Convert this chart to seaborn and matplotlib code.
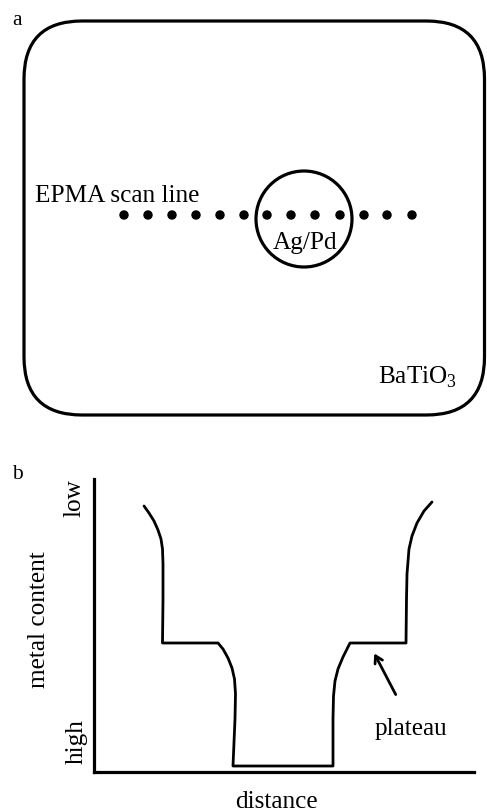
import matplotlib
matplotlib.use("Agg")
import matplotlib.pyplot as plt
from matplotlib.patches import FancyBboxPatch, Circle
import seaborn as sns
import pandas as pd

sns.set_style("white")
plt.rcParams['font.family'] = ['Liberation Serif', 'DejaVu Serif']
plt.rcParams['mathtext.fontset'] = 'custom'
plt.rcParams['mathtext.rm'] = 'Liberation Serif'
plt.rcParams['text.color'] = 'black'

# ---------------- data ----------------
# panel a: EPMA scan points (position along scan line, panel pixel units)
scan_x = [124, 148, 172, 196, 220, 244, 267, 291, 315, 340, 364, 387, 412]
scan_y = [216] * len(scan_x)

# panel b: schematic metal-content profile (distance, content height)
profile_distance = [50, 55, 60, 64, 67, 68.5, 69, 69, 68.5,
                    124, 129, 134, 138, 140.5, 141.5, 141, 139,
                    239, 239, 239.5, 241, 244, 249, 256,
                    312, 312.5, 313, 315, 318, 323, 330, 338]
profile_content = [266, 259, 251, 242, 233, 223, 208, 173, 129,
                   129, 123, 114, 104, 93, 78, 53, 6,
                   6, 53, 76, 91, 103, 115, 129,
                   129, 173, 198, 223, 236, 249, 261, 270]

labels_a = ["EPMA scan line", "Ag/Pd", "BaTiO$_\\mathrm{3}$"]
labels_b = ["metal content", "distance", "low", "high", "plateau"]

W, H = 487, 812
fig = plt.figure(figsize=(W / 100, H / 100), dpi=100)
fig.patch.set_facecolor("white")

FS = 18.2
LW = 2.3

# ---------------- panel a ----------------
axa = fig.add_axes([0, (H - 470) / H, 1, 470 / H])
axa.set_xlim(0, W)
axa.set_ylim(470, 0)
axa.axis("off")

box = FancyBboxPatch((24, 22), 460.5, 394, boxstyle="round,pad=0,rounding_size=58",
                     fill=False, lw=LW, ec="black")
axa.add_patch(box)
axa.add_patch(Circle((304, 220), 48, fill=False, lw=LW, ec="black"))

df_a = pd.DataFrame({"x": scan_x, "y": scan_y})
sns.scatterplot(data=df_a, x="x", y="y", ax=axa, color="black", s=46,
                edgecolor="none", legend=False)
axa.set_xlabel("")
axa.set_ylabel("")

axa.text(35, 202, labels_a[0], fontsize=FS, ha="left", va="baseline")
axa.text(305, 249, labels_a[1], fontsize=FS, ha="center", va="baseline")
axa.text(378, 384, labels_a[2], fontsize=FS, ha="left", va="baseline")
axa.text(12, 25, "a", fontsize=15.5, ha="left", va="baseline")

# ---------------- panel b ----------------
axb = fig.add_axes([94 / W, (H - 773) / H, 380 / W, 293 / H])
df_b = pd.DataFrame({"distance": profile_distance, "content": profile_content})
sns.lineplot(data=df_b, x="distance", y="content", ax=axb, sort=False,
             estimator=None, color="black", lw=2.0)
axb.set_xlim(0, 380)
axb.set_ylim(0, 293)
axb.set_xticks([])
axb.set_yticks([])
axb.set_xlabel("")
axb.set_ylabel("")
for s in ["top", "right"]:
    axb.spines[s].set_visible(False)
for s in ["left", "bottom"]:
    axb.spines[s].set_linewidth(LW)
    axb.spines[s].set_color("black")

# arrow pointing at plateau
axb.annotate("", xy=(373 - 94, 773 - 652), xytext=(397 - 94, 773 - 698),
             arrowprops=dict(arrowstyle="->,head_length=0.5,head_width=0.3",
                             lw=2, color="black"))

def ft(x, y, s, **kw):
    fig.text(x / W, 1 - y / H, s, fontsize=FS, **kw)

ft(39, 620, labels_b[0], rotation=90, ha="center", va="center")
ft(276, 808, labels_b[1], ha="center", va="baseline")
ft(74, 498, labels_b[2], rotation=90, ha="center", va="center")
ft(77, 742, labels_b[3], rotation=90, ha="center", va="center")
ft(411, 735, labels_b[4], ha="center", va="baseline")
fig.text(12 / W, 1 - 479 / H, "b", fontsize=15.5, ha="left", va="baseline")

fig.savefig("out.png", dpi=100)
